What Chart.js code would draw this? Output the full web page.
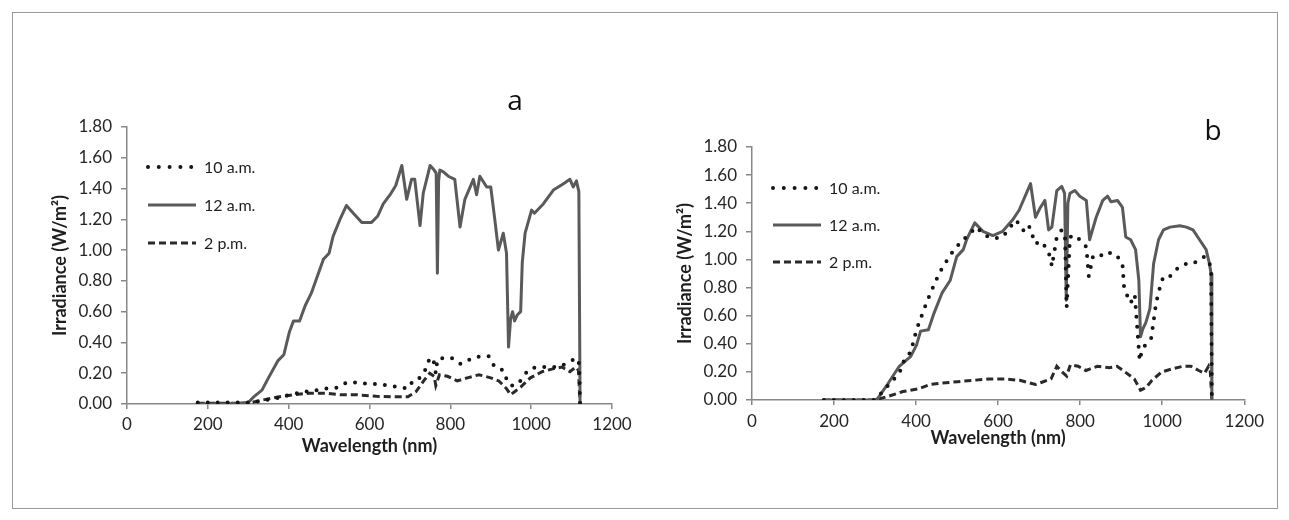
<!DOCTYPE html>
<html>
<head>
<meta charset="utf-8">
<script src="https://cdn.jsdelivr.net/npm/chart.js@4.4.1/dist/chart.umd.min.js"></script>
<style>
  body { margin: 0; background: #fff; }
  #frame { position: absolute; left: 12px; top: 12px; width: 1264px; height: 495px; border: 1px solid #999; }
  canvas { position: absolute; }
</style>
</head>
<body>
<div id="frame"></div>
<canvas id="chartA" width="620" height="440" style="left:20px;top:20px"></canvas>
<canvas id="chartB" width="630" height="440" style="left:640px;top:20px"></canvas>
<script>
// panel a
const a10Wl  = [175, 200, 250, 300, 334, 373, 402, 422, 451, 471, 490, 519, 544, 568, 598, 622, 646, 671, 695, 710, 725, 740, 749, 758, 764, 768, 783, 803, 817, 827, 842, 856, 876, 895, 910, 930, 944, 954, 968, 983, 998, 1017, 1047, 1066, 1085, 1100, 1110, 1117, 1119, 1121];
const a10Val = [0.01, 0.01, 0.01, 0.01, 0.02, 0.04, 0.06, 0.07, 0.085, 0.09, 0.10, 0.105, 0.14, 0.14, 0.13, 0.13, 0.12, 0.11, 0.10, 0.16, 0.17, 0.23, 0.30, 0.29, 0.20, 0.29, 0.30, 0.30, 0.27, 0.26, 0.28, 0.30, 0.31, 0.31, 0.24, 0.22, 0.13, 0.12, 0.13, 0.19, 0.23, 0.24, 0.24, 0.24, 0.26, 0.28, 0.30, 0.28, 0.25, 0];

const a12Wl  = [175, 200, 250, 300, 315, 334, 350, 373, 388, 402, 412, 427, 441, 456, 471, 486, 500, 510, 527, 543, 560, 581, 605, 620, 634, 651, 665, 680, 692, 704, 712, 725, 733, 750, 760, 765, 768, 771, 774, 782, 795, 811, 824, 836, 857, 865, 873, 890, 900, 910, 919, 931, 939, 944, 949, 954, 959, 966, 974, 978, 985, 1001, 1008, 1030, 1055, 1079, 1096, 1104, 1112, 1118, 1121];
const a12Val = [0, 0, 0, 0.01, 0.05, 0.09, 0.17, 0.28, 0.32, 0.47, 0.54, 0.54, 0.64, 0.72, 0.83, 0.94, 0.98, 1.09, 1.20, 1.29, 1.24, 1.18, 1.18, 1.22, 1.30, 1.36, 1.42, 1.55, 1.33, 1.46, 1.46, 1.16, 1.37, 1.55, 1.52, 1.50, 0.85, 1.45, 1.52, 1.51, 1.48, 1.46, 1.15, 1.33, 1.46, 1.36, 1.48, 1.41, 1.41, 1.20, 1.00, 1.11, 0.98, 0.37, 0.55, 0.60, 0.54, 0.58, 0.60, 0.92, 1.11, 1.26, 1.24, 1.30, 1.39, 1.43, 1.46, 1.41, 1.45, 1.38, 0];

const a2Wl  = [175, 300, 334, 373, 412, 451, 490, 529, 568, 617, 666, 695, 715, 734, 749, 760, 764, 773, 793, 817, 842, 871, 900, 920, 939, 949, 959, 974, 998, 1027, 1056, 1076, 1096, 1110, 1117, 1121];
const a2Val = [0.005, 0.005, 0.025, 0.045, 0.06, 0.07, 0.07, 0.06, 0.06, 0.05, 0.047, 0.047, 0.08, 0.15, 0.20, 0.18, 0.12, 0.19, 0.18, 0.15, 0.17, 0.19, 0.17, 0.15, 0.10, 0.06, 0.08, 0.11, 0.17, 0.21, 0.23, 0.24, 0.21, 0.24, 0.22, 0];

// panel b
const b10Wl  = [175, 300, 311, 340, 359, 373, 387, 401, 420, 435, 450, 460, 483, 499, 515, 547, 567, 591, 611, 627, 643, 655, 663, 675, 691, 703, 715, 727, 731, 739, 743, 755, 763, 767, 771, 775, 791, 803, 815, 821, 831, 843, 859, 875, 891, 903, 907, 915, 923, 933, 945, 951, 961, 973, 977, 985, 995, 1003, 1019, 1031, 1043, 1059, 1075, 1091, 1103, 1115, 1119, 1121];
const b10Val = [0, 0, 0.035, 0.13, 0.19, 0.30, 0.34, 0.50, 0.65, 0.76, 0.86, 0.92, 1.03, 1.09, 1.14, 1.23, 1.17, 1.15, 1.16, 1.22, 1.28, 1.24, 1.20, 1.24, 1.11, 1.13, 1.09, 1.02, 0.95, 1.09, 1.16, 1.21, 1.15, 0.66, 0.90, 1.16, 1.17, 1.12, 1.09, 0.88, 1.02, 1.04, 1.02, 1.05, 1.02, 0.97, 0.80, 0.74, 0.69, 0.75, 0.28, 0.36, 0.40, 0.44, 0.52, 0.69, 0.81, 0.88, 0.88, 0.92, 0.95, 0.97, 0.97, 1.00, 1.02, 0.97, 0.95, 0];

const b12Wl  = [175, 300, 306, 330, 359, 387, 401, 411, 430, 444, 463, 483, 499, 515, 523, 543, 563, 587, 611, 635, 651, 679, 691, 703, 714, 723, 731, 743, 755, 762, 766, 770, 775, 787, 799, 815, 823, 839, 855, 867, 875, 891, 903, 911, 923, 935, 943, 947, 952, 960, 970, 979, 991, 1003, 1019, 1043, 1059, 1075, 1091, 1107, 1115, 1119, 1121];
const b12Val = [0, 0, 0.01, 0.11, 0.24, 0.31, 0.39, 0.49, 0.50, 0.62, 0.76, 0.85, 1.02, 1.07, 1.14, 1.26, 1.20, 1.17, 1.20, 1.28, 1.35, 1.54, 1.30, 1.37, 1.42, 1.21, 1.23, 1.49, 1.52, 1.47, 0.71, 1.40, 1.47, 1.49, 1.45, 1.42, 1.14, 1.30, 1.42, 1.45, 1.41, 1.42, 1.37, 1.16, 1.14, 1.07, 0.85, 0.45, 0.50, 0.55, 0.65, 0.97, 1.14, 1.21, 1.23, 1.24, 1.23, 1.21, 1.14, 1.07, 0.97, 0.90, 0];

const b2Wl  = [175, 300, 330, 368, 406, 434, 463, 501, 539, 577, 615, 653, 691, 710, 729, 743, 752, 767, 776, 795, 814, 823, 842, 871, 890, 909, 932, 947, 961, 975, 999, 1023, 1051, 1070, 1089, 1103, 1113, 1117, 1121];
const b2Val = [0, 0, 0.024, 0.06, 0.08, 0.11, 0.12, 0.13, 0.14, 0.15, 0.15, 0.14, 0.11, 0.13, 0.15, 0.24, 0.21, 0.17, 0.25, 0.24, 0.21, 0.22, 0.24, 0.23, 0.24, 0.20, 0.15, 0.07, 0.09, 0.14, 0.20, 0.22, 0.24, 0.24, 0.21, 0.19, 0.24, 0.21, 0];

const seriesLabels = ['10 a.m.', '12 a.m.', '2 p.m.'];
const xTicks = { min: 0, max: 1200, step: 200 };
const yTicks = { min: 0, max: 1.8, step: 0.2 };

const pts = (xs, ys) => xs.map((x, i) => ({ x: x, y: ys[i] }));

const insideLegend = {
  id: 'insideLegend',
  afterDraw(chart, args, opts) {
    const { ctx, chartArea } = chart;
    ctx.save();
    chart.data.datasets.forEach((ds, i) => {
      const x0 = chartArea.left + opts.x;
      const y = chartArea.top + opts.y + i * opts.gap;
      ctx.beginPath();
      ctx.strokeStyle = ds.borderColor;
      ctx.lineWidth = ds.borderWidth;
      ctx.lineCap = ds.borderCapStyle || 'butt';
      ctx.setLineDash(i === 0 ? [0, 10.8] : (ds.borderDash || []));
      ctx.moveTo(x0, y);
      ctx.lineTo(x0 + (i === 0 ? 44 : 48), y);
      ctx.stroke();
      ctx.setLineDash([]);
      ctx.fillStyle = '#1e1e1e';
      ctx.font = '16px Lato';
      ctx.textBaseline = 'middle';
      ctx.fillText(ds.label, x0 + 56, y + 1);
    });
    ctx.font = '28px "Open Sans"';
    ctx.fillStyle = '#111';
    ctx.textAlign = 'center';
    ctx.textBaseline = 'middle';
    ctx.fillText(opts.letter, chartArea.left + opts.lx, chartArea.top + opts.ly);
    ctx.restore();
  }
};

function makeChart(id, d10, d12, d2, cfg) {
  return new Chart(document.getElementById(id), {
    type: 'line',
    data: {
      datasets: [
        { label: seriesLabels[0], data: d10, borderColor: '#151515', borderWidth: 4, borderDash: [0, 10], borderCapStyle: 'round', pointRadius: 0, tension: 0 },
        { label: seriesLabels[1], data: d12, borderColor: '#5a5a5a', borderWidth: 3, pointRadius: 0, tension: 0, borderJoinStyle: 'round' },
        { label: seriesLabels[2], data: d2, borderColor: '#2a2a2a', borderWidth: 3, borderDash: [7, 4], pointRadius: 0, tension: 0 }
      ]
    },
    options: {
      responsive: false, animation: false,
      layout: { padding: { top: cfg.top, right: cfg.right, left: 0, bottom: 0 } },
      plugins: {
        legend: { display: false }, tooltip: { enabled: false },
        insideLegend: { x: cfg.lgX, y: cfg.lgY, gap: cfg.lgGap, letter: cfg.letter, lx: cfg.lx, ly: cfg.ly }
      },
      scales: {
        x: {
          type: 'linear', min: xTicks.min, max: xTicks.max,
          ticks: { stepSize: xTicks.step, color: '#262626', font: { family: 'Lato', size: 17 }, padding: cfg.xPad, callback: v => String(v) },
          grid: { drawOnChartArea: false, tickLength: 5, color: '#888', lineWidth: 1.5 },
          border: { color: '#888', width: 1.5 },
          title: { display: true, text: 'Wavelength (nm)', color: '#1e1e1e', font: { family: 'Lato', size: 18, weight: 'bold' }, padding: { top: 0, bottom: cfg.xTitlePad } },
          afterFit(s) { s.height = cfg.xH; }
        },
        y: {
          min: yTicks.min, max: yTicks.max,
          ticks: { stepSize: yTicks.step, color: '#262626', font: { family: 'Lato', size: 17 }, padding: 9, callback: v => v.toFixed(2) },
          grid: { drawOnChartArea: false, tickLength: 6, color: '#888', lineWidth: 1.5 },
          border: { color: '#888', width: 1.5 },
          title: { display: true, text: 'Irradiance (W/m²)', color: '#1e1e1e', font: { family: 'Lato', size: 18, weight: 'bold' }, padding: { top: cfg.yTitlePad, bottom: 0 } },
          afterFit(s) { s.width = cfg.yW; }
        }
      }
    },
    plugins: [insideLegend]
  });
}

makeChart('chartA', pts(a10Wl, a10Val), pts(a12Wl, a12Val), pts(a2Wl, a2Val), {
  top: 107, right: 28, yW: 107, xH: 56, xPad: 5, xTitlePad: 3, yTitlePad: 29,
  lgX: 21, lgY: 40, lgGap: 38, letter: 'a', lx: 388, ly: -25
});

makeChart('chartB', pts(b10Wl, b10Val), pts(b12Wl, b12Val), pts(b2Wl, b2Val), {
  top: 127, right: 18, yW: 112, xH: 60, xPad: 6, xTitlePad: 11, yTitlePad: 34,
  lgX: 21, lgY: 41, lgGap: 37, letter: 'b', lx: 461, ly: -15
});
</script>
</body>
</html>
